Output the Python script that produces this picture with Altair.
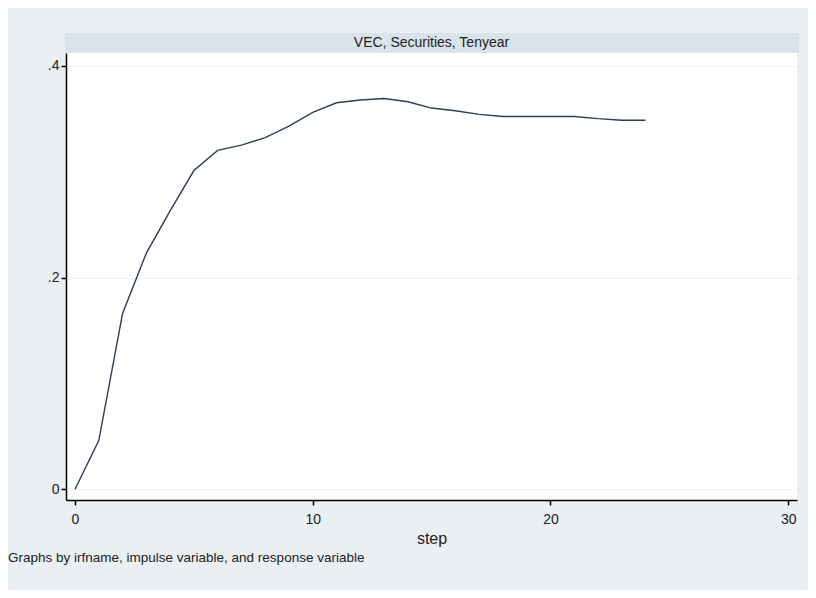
import altair as alt
import pandas as pd

steps = list(range(25))
irf = [0.000, 0.046, 0.166, 0.223, 0.263, 0.301, 0.320, 0.325, 0.332, 0.343,
       0.356, 0.365, 0.3676, 0.369, 0.366, 0.360, 0.3575, 0.354, 0.352, 0.352,
       0.352, 0.352, 0.350, 0.3485, 0.3485]

panel_title = "VEC, Securities, Tenyear"
note_text = "Graphs by irfname, impulse variable, and response variable"
x_ticks = [0, 10, 20, 30]
y_ticks = [0, 0.2, 0.4]

df = pd.DataFrame({"step": steps, "irf": irf})

W, H = 731, 447
FONT = "Liberation Sans"

x_scale = alt.Scale(domain=[-0.379, 30.37], nice=False, zero=False)
y_scale = alt.Scale(domain=[-0.0101, 0.412], nice=False, zero=False)

line = alt.Chart(df).mark_line(color="#2b3f55", strokeWidth=1.4).encode(
    x=alt.X("step:Q", scale=x_scale,
            axis=alt.Axis(values=x_ticks, title="step", grid=False,
                          tickSize=5, tickColor="black", tickWidth=1.5,
                          domainColor="black", domainWidth=1.5,
                          labelFontSize=14, labelPadding=7, labelColor="#222",
                          labelFont=FONT, titleFont=FONT, titleFontSize=16,
                          titleFontWeight="normal", titleColor="#222",
                          titlePadding=4)),
    y=alt.Y("irf:Q", scale=y_scale,
            axis=alt.Axis(values=y_ticks, title=None, grid=True,
                          gridColor="#eaf2f3", gridWidth=1.2,
                          tickSize=5, tickColor="black", tickWidth=1.5,
                          domainColor="black", domainWidth=1.5,
                          labelFontSize=14, labelPadding=2, labelColor="#222",
                          labelFont=FONT,
                          labelExpr="datum.value == 0 ? '0' : substring(format(datum.value, '.1f'), 1)")),
)

strip = alt.Chart(df).mark_rect(color="#d9e3ea").encode(
    x=alt.value(-1), x2=alt.value(W + 2), y=alt.value(-20), y2=alt.value(0)
).transform_filter("datum.step == 0")

strip_text = alt.Chart(df).mark_text(
    fontSize=14, font=FONT, color="#222", baseline="middle", align="center"
).encode(
    x=alt.value(W / 2), y=alt.value(-10), text=alt.value(panel_title)
).transform_filter("datum.step == 0")

note = alt.Chart(df).mark_text(
    fontSize=13.5, font=FONT, color="#222", baseline="middle", align="left"
).encode(
    x=alt.value(-58), y=alt.value(505), text=alt.value(note_text)
).transform_filter("datum.step == 0")

chart = alt.layer(strip, strip_text, line, note).properties(
    width=W, height=H,
    autosize=alt.AutoSizeParams(type="none"),
    padding={"left": 58, "top": 45, "right": 11, "bottom": 90},
    background="#e9eff2",
).configure_view(fill="white", stroke=None)

chart.save("out.html", embed_options={"renderer": "svg", "actions": False})
